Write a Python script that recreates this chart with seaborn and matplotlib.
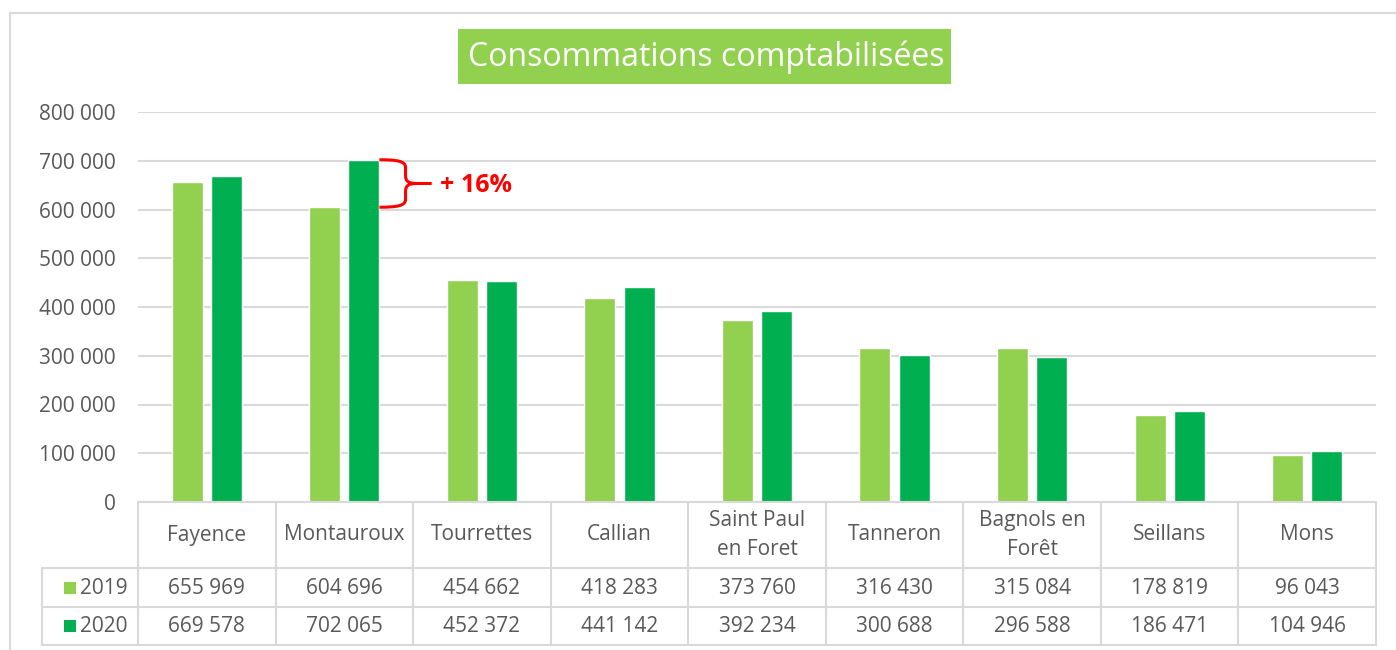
import pandas as pd
import matplotlib
matplotlib.use('Agg')
import matplotlib.pyplot as plt
import seaborn as sns
from matplotlib.lines import Line2D
from matplotlib.patches import Rectangle, PathPatch
from matplotlib.path import Path
from matplotlib.ticker import FuncFormatter

communes = ['Fayence', 'Montauroux', 'Tourrettes', 'Callian', 'Saint Paul\nen Foret',
            'Tanneron', 'Bagnols en\nForêt', 'Seillans', 'Mons']
annees = ['2019', '2020']
conso_2019 = [655969, 604696, 454662, 418283, 373760, 316430, 315084, 178819, 96043]
conso_2020 = [669578, 702065, 452372, 441142, 392234, 300688, 296588, 186471, 104946]
titre = 'Consommations comptabilisées'
hausse_label = '+ 16%'
hausse_commune = 'Montauroux'

vert_clair = '#92D050'
vert_fonce = '#00B050'
gris = '#595959'
gris_ligne = '#D9D9D9'
rouge = '#FF0000'


def esp(v):
    return f'{int(v):,}'.replace(',', ' ')


df = pd.DataFrame({
    'Commune': communes * 2,
    'Annee': [annees[0]] * len(communes) + [annees[1]] * len(communes),
    'Conso': conso_2019 + conso_2020,
})

W, H = 1396, 650
sns.set_style('white')
plt.rcParams['font.family'] = ['Open Sans', 'DejaVu Sans']

fig = plt.figure(figsize=(W / 100, H / 100), dpi=100)


def fy(py):
    return 1 - py / H


ax = fig.add_axes([138 / W, fy(502), 1238 / W, 390 / H])
sns.barplot(data=df, x='Commune', y='Conso', hue='Annee', palette=[vert_clair, vert_fonce],
            width=0.57, gap=0.21, saturation=1, legend=False, ax=ax)
ax.set_ylim(0, 800000)
ax.set_xlim(-0.5, len(communes) - 0.5)
ax.set_yticks(range(0, 800001, 100000))
ax.yaxis.set_major_formatter(FuncFormatter(lambda v, p: esp(v)))
ax.tick_params(axis='y', length=0, labelsize=15, labelcolor=gris, pad=16)
ax.set_xticks([])
ax.set_xlabel('')
ax.set_ylabel('')
ax.grid(axis='y', color=gris_ligne, linewidth=1.5)
ax.set_axisbelow(True)
for s in ax.spines.values():
    s.set_visible(False)

# cadre exterieur
fig.add_artist(Rectangle((10 / W, fy(700)), 1500 / W, 687 / H, transform=fig.transFigure,
                         fill=False, edgecolor=gris_ligne, linewidth=1.5))

# titre
fig.add_artist(Rectangle((458 / W, fy(84)), 493 / W, 55 / H, transform=fig.transFigure,
                         facecolor=vert_clair, edgecolor='none'))
fig.text(706 / W, fy(57), titre, color='white', fontsize=23, ha='center', va='center')

# tableau de donnees
def px(xd):
    return ax.transData.transform((xd, 0))[0] / W


rows = [502, 568, 607, 645]
x_left = px(-0.5)
x_right = px(len(communes) - 0.5)
lab_left = 42 / W
for i, r in enumerate(rows):
    x0 = x_left if i == 0 else lab_left
    fig.add_artist(Line2D([x0, x_right], [fy(r), fy(r)], transform=fig.transFigure,
                          color=gris_ligne, linewidth=1.5))
for i in range(len(communes) + 1):
    xb = px(i - 0.5)
    fig.add_artist(Line2D([xb, xb], [fy(502), fy(645)], transform=fig.transFigure,
                          color=gris_ligne, linewidth=1.5))
fig.add_artist(Line2D([lab_left, lab_left], [fy(568), fy(645)], transform=fig.transFigure,
                      color=gris_ligne, linewidth=1.5))

for i, c in enumerate(communes):
    xc = px(i)
    fig.text(xc, fy(535), c, ha='center', va='center', fontsize=15, color=gris, linespacing=1.45)
    fig.text(xc, fy(588), esp(conso_2019[i]), ha='center', va='center', fontsize=15, color=gris)
    fig.text(xc, fy(626), esp(conso_2020[i]), ha='center', va='center', fontsize=15, color=gris)

for an, couleur, yc in [(annees[0], vert_clair, 588), (annees[1], vert_fonce, 626)]:
    fig.add_artist(Rectangle((64 / W, fy(yc + 6)), 12 / W, 12 / H, transform=fig.transFigure,
                             facecolor=couleur, edgecolor='none'))
    fig.text(80 / W, fy(yc), an, ha='left', va='center', fontsize=15, color=gris)

# accolade de hausse
k = communes.index(hausse_commune)
bars = [p for p in ax.patches if p.get_height() > 0]
b20 = min(bars[len(communes):], key=lambda p: abs(p.get_x() + p.get_width() / 2 - k - 0.14))
xr = b20.get_x() + b20.get_width()
ytop = conso_2020[k]
ybot = conso_2019[k]
ymid = (ytop + ybot) / 2
xb = xr + 0.19
xt = xr + 0.38
dy = 16000
verts = [
    (xr, ytop), (xb - 0.06, ytop), (xb, ytop - 3000), (xb, ytop - dy),
    (xb, ymid + dy),
    (xb, ymid + 3000), (xb + 0.03, ymid), (xb + 0.08, ymid),
    (xt, ymid),
    (xb + 0.08, ymid), (xb + 0.03, ymid), (xb, ymid - 3000), (xb, ymid - dy),
    (xb, ybot + dy),
    (xb, ybot + 3000), (xb - 0.06, ybot), (xr, ybot),
]
codes = [Path.MOVETO, Path.CURVE4, Path.CURVE4, Path.CURVE4,
         Path.LINETO,
         Path.CURVE4, Path.CURVE4, Path.CURVE4,
         Path.LINETO,
         Path.MOVETO, Path.CURVE4, Path.CURVE4, Path.CURVE4,
         Path.LINETO,
         Path.CURVE4, Path.CURVE4, Path.CURVE4]
ax.add_patch(PathPatch(Path(verts, codes), fill=False, edgecolor=rouge, linewidth=2.2,
                       clip_on=False, zorder=5))
ax.text(xt + 0.06, ymid - 5000, hausse_label, color=rouge, fontsize=18, fontweight='bold',
        ha='left', va='center')

fig.savefig('out.png', dpi=100)
